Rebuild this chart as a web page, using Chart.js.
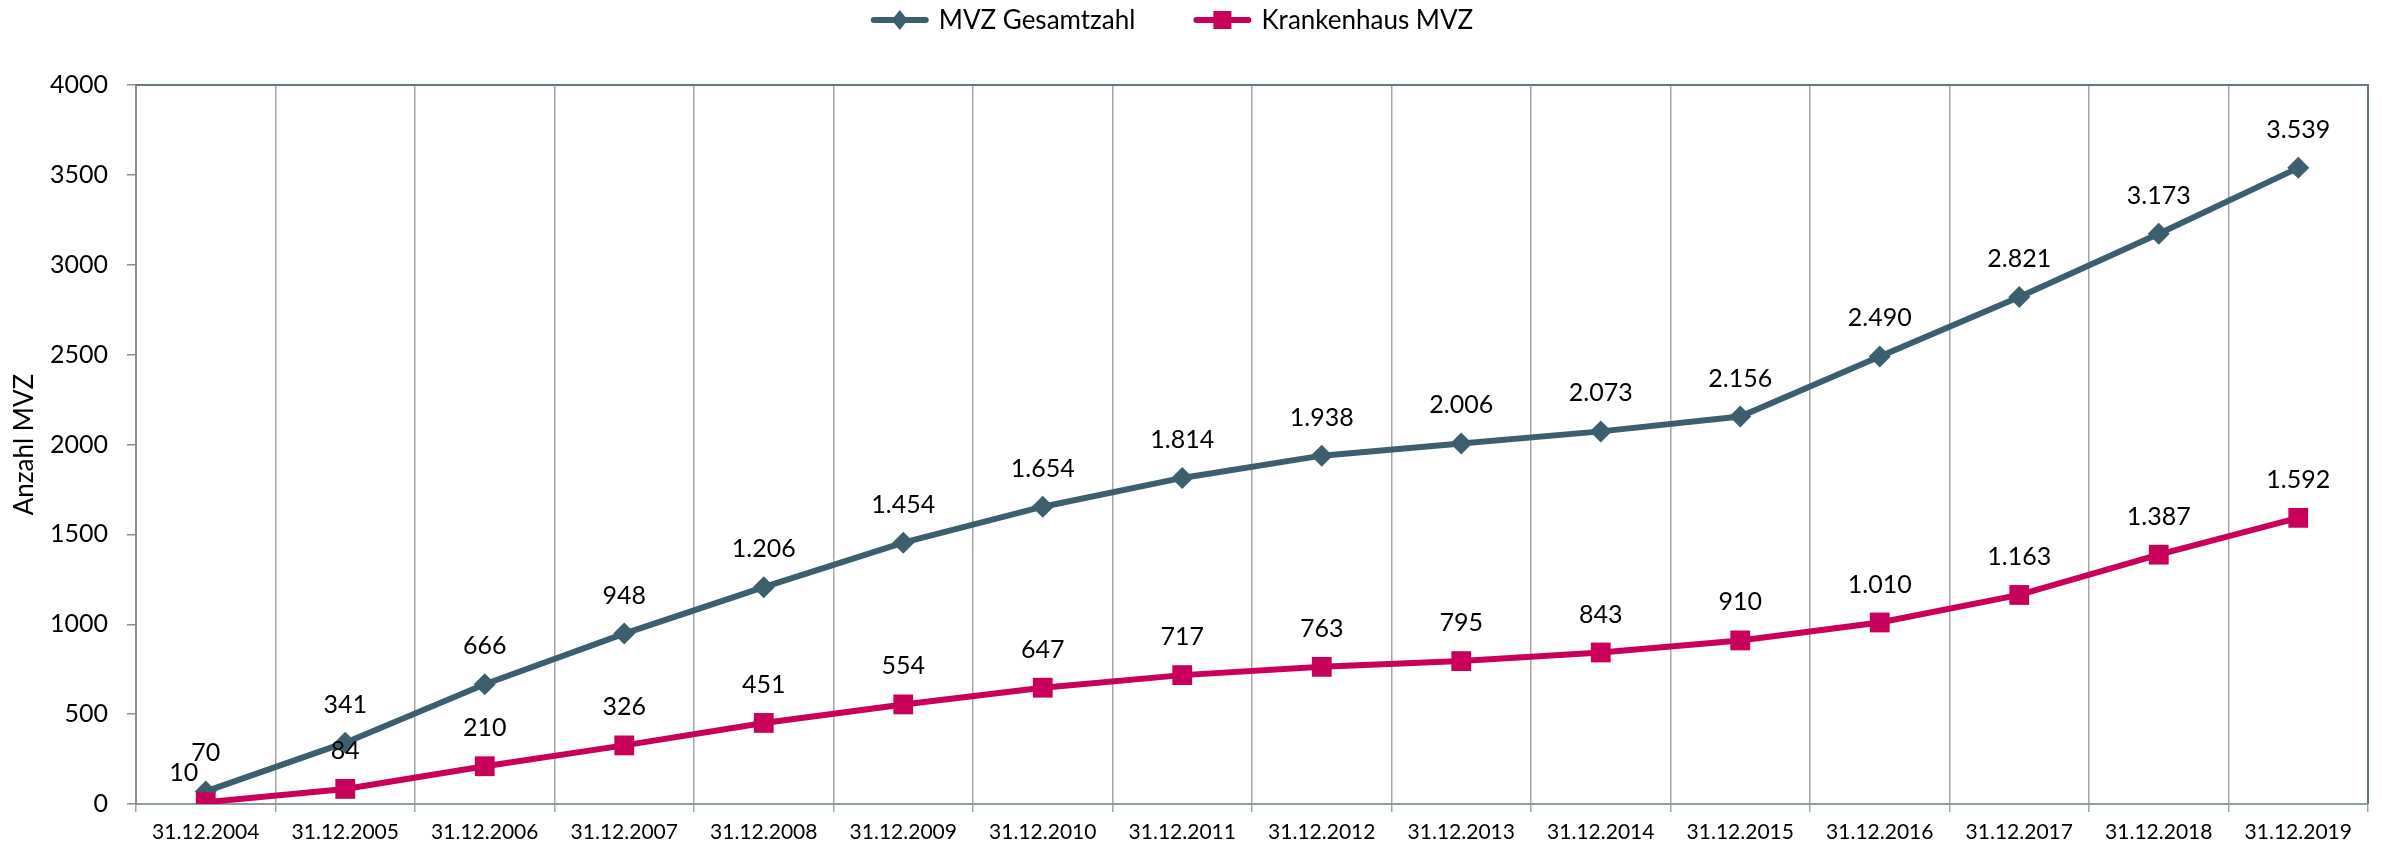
<!DOCTYPE html>
<html>
<head>
<meta charset="utf-8">
<script src="https://cdn.jsdelivr.net/npm/chart.js@4"></script>
<style>
  html, body { margin: 0; padding: 0; background: #fff; }
  #wrap { width: 2382px; height: 847px; }
</style>
</head>
<body>
<div id="wrap"><canvas id="chart" width="2382" height="847"></canvas></div>
<script>
// --- data ---
const dates = ['31.12.2004', '31.12.2005', '31.12.2006', '31.12.2007', '31.12.2008', '31.12.2009',
  '31.12.2010', '31.12.2011', '31.12.2012', '31.12.2013', '31.12.2014', '31.12.2015',
  '31.12.2016', '31.12.2017', '31.12.2018', '31.12.2019'];
const mvzTotal = [70, 341, 666, 948, 1206, 1454, 1654, 1814, 1938, 2006, 2073, 2156, 2490, 2821, 3173, 3539];
const hospitalMvz = [10, 84, 210, 326, 451, 554, 647, 717, 763, 795, 843, 910, 1010, 1163, 1387, 1592];
const seriesNames = ['MVZ Gesamtzahl', 'Krankenhaus MVZ'];
const yTicks = [0, 500, 1000, 1500, 2000, 2500, 3000, 3500, 4000];

const DARK = '#3c5f6f';
const PINK = '#c8005a';
const FONT = 'Lato, "Open Sans", sans-serif';

// German thousands separator: 1206 -> "1.206"
const fmt = v => String(v).replace(/\B(?=(\d{3})+(?!\d))/g, '.');

// --- value labels above each point ---
const valueLabels = {
  id: 'valueLabels',
  afterDatasetsDraw(chart) {
    const ctx = chart.ctx;
    ctx.save();
    ctx.font = '25px ' + FONT;
    ctx.fillStyle = '#000';
    ctx.textAlign = 'center';
    ctx.textBaseline = 'middle';
    chart.data.datasets.forEach((ds, i) => {
      chart.getDatasetMeta(i).data.forEach((pt, j) => {
        let dx = 0, dy = -38;
        if (i === 1 && j === 0) { dx = -22; dy = -29; } // Excel nudged this one left
        ctx.fillText(fmt(ds.data[j]), pt.x + dx, pt.y + dy);
      });
    });
    ctx.restore();
  }
};

// --- plot frame (top + right edge) ---
const frame = {
  id: 'frame',
  beforeDatasetsDraw(chart) {
    const { ctx, chartArea: a } = chart;
    ctx.save();
    ctx.strokeStyle = '#5f7b88';
    ctx.lineWidth = 2;
    ctx.beginPath();
    ctx.moveTo(a.left, a.top);
    ctx.lineTo(a.right, a.top);
    ctx.lineTo(a.right, a.bottom);
    ctx.stroke();
    ctx.restore();
  }
};

// --- Excel style legend: line with marker + text ---
const lineLegend = {
  id: 'lineLegend',
  afterDraw(chart) {
    const ctx = chart.ctx;
    ctx.save();
    ctx.font = '26px ' + FONT;
    ctx.textBaseline = 'middle';
    const symW = 58, gap = 10, between = 58, cy = 20;
    const widths = chart.data.datasets.map(ds => symW + gap + ctx.measureText(ds.label).width);
    const total = widths.reduce((a, b) => a + b, 0) + between * (widths.length - 1);
    let x = 1172 - total / 2;
    chart.data.datasets.forEach((ds, i) => {
      ctx.strokeStyle = ds.borderColor;
      ctx.lineWidth = 6;
      ctx.lineCap = 'round';
      ctx.beginPath();
      ctx.moveTo(x + 3, cy);
      ctx.lineTo(x + symW - 3, cy);
      ctx.stroke();
      ctx.fillStyle = ds.borderColor;
      const mx = x + symW / 2;
      ctx.beginPath();
      if (ds.pointStyle === 'rectRot') {
        ctx.moveTo(mx, cy - 10); ctx.lineTo(mx + 8, cy); ctx.lineTo(mx, cy + 10); ctx.lineTo(mx - 8, cy);
      } else {
        ctx.rect(mx - 9, cy - 9, 18, 18);
      }
      ctx.fill();
      ctx.fillStyle = '#000';
      ctx.fillText(ds.label, x + symW + gap, cy + 1);
      x += widths[i] + between;
    });
    ctx.restore();
  }
};

new Chart(document.getElementById('chart'), {
  type: 'line',
  data: {
    labels: dates,
    datasets: [
      {
        label: seriesNames[0], data: mvzTotal, order: 1,
        borderColor: DARK, backgroundColor: DARK, borderWidth: 6,
        pointStyle: 'rectRot', pointRadius: 11, pointBorderWidth: 0,
        pointBackgroundColor: DARK, tension: 0
      },
      {
        label: seriesNames[1], data: hospitalMvz, order: 0,
        borderColor: PINK, backgroundColor: PINK, borderWidth: 6,
        pointStyle: 'rect', pointRadius: 14, pointBorderWidth: 0,
        pointBackgroundColor: PINK, tension: 0
      }
    ]
  },
  options: {
    responsive: false,
    animation: false,
    devicePixelRatio: 1,
    layout: { padding: { top: 85, right: 11, left: 0, bottom: 0 } },
    plugins: { legend: { display: false }, tooltip: { enabled: false } },
    scales: {
      x: {
        offset: true,
        grid: { offset: true, color: '#a6a6a6', lineWidth: 1.5, tickLength: 8 },
        border: { color: '#8c9ca4', width: 2 },
        ticks: { color: '#000', font: { family: FONT, size: 21 }, padding: 8, maxRotation: 0, autoSkip: false },
        afterFit: s => { s.height = 43; }
      },
      y: {
        min: 0, max: 4000,
        afterBuildTicks: s => { s.ticks = yTicks.map(v => ({ value: v })); },
        grid: { drawOnChartArea: false, color: '#8c8c8c', lineWidth: 1.5, tickLength: 9 },
        border: { color: '#8c8c8c', width: 2 },
        ticks: { color: '#000', font: { family: FONT, size: 25 }, padding: 19, callback: v => String(v) },
        title: { display: true, text: 'Anzahl MVZ', color: '#000', font: { family: FONT, size: 26 }, padding: { top: 9, bottom: 0 } },
        afterFit: s => { s.width = 136; }
      }
    }
  },
  plugins: [frame, valueLabels, lineLegend]
});
</script>
</body>
</html>
